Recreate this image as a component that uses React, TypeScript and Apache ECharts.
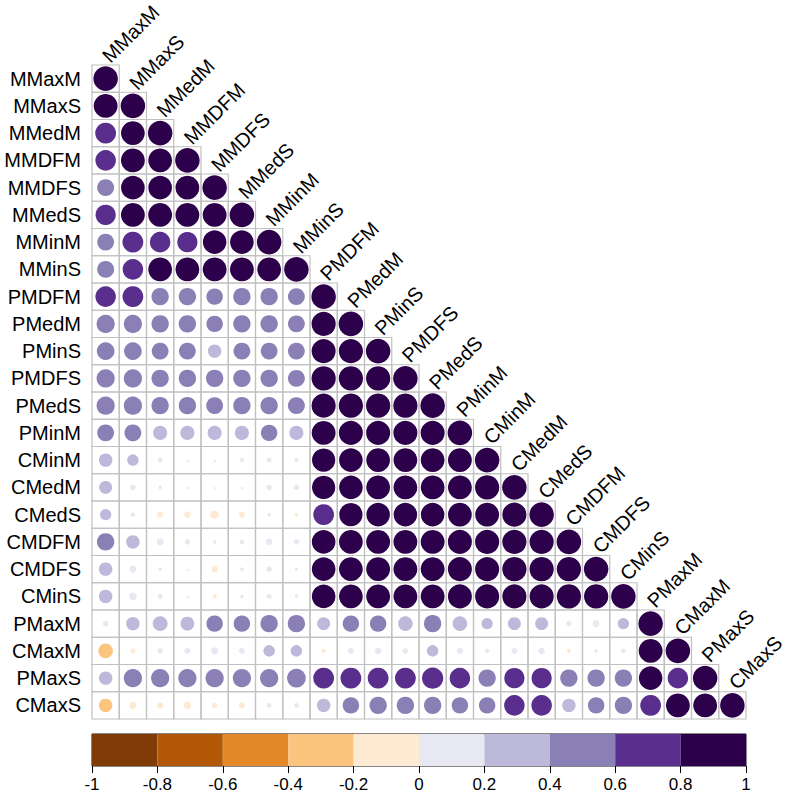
import React, { useEffect, useRef } from "react";
import * as echarts from "echarts";

const labels = [
  "MMaxM", "MMaxS", "MMedM", "MMDFM", "MMDFS", "MMedS", "MMinM", "MMinS",
  "PMDFM", "PMedM", "PMinS", "PMDFS", "PMedS", "PMinM", "CMinM", "CMedM",
  "CMedS", "CMDFM", "CMDFS", "CMinS", "PMaxM", "CMaxM", "PMaxS", "CMaxS",
];

// lower-triangle correlation rows (row i holds columns 0..i)
const rowMMaxM = [1];
const rowMMaxS = [0.95, 1];
const rowMMedM = [0.72, 0.94, 1];
const rowMMDFM = [0.7, 0.95, 0.94, 1];
const rowMMDFS = [0.48, 0.93, 0.93, 0.94, 1];
const rowMMedS = [0.68, 0.95, 0.95, 0.95, 0.95, 1];
const rowMMinM = [0.47, 0.72, 0.7, 0.68, 0.92, 0.93, 1];
const rowMMinS = [0.48, 0.7, 0.94, 0.94, 0.95, 0.95, 0.94, 1];
const rowPMDFM = [0.7, 0.72, 0.5, 0.5, 0.45, 0.5, 0.5, 0.47, 1];
const rowPMedM = [0.55, 0.55, 0.5, 0.5, 0.45, 0.5, 0.5, 0.47, 0.97, 1];
const rowPMinS = [0.52, 0.52, 0.47, 0.47, 0.3, 0.47, 0.47, 0.47, 0.96, 0.97, 1];
const rowPMDFS = [0.55, 0.55, 0.5, 0.5, 0.5, 0.5, 0.5, 0.48, 0.98, 0.98, 0.98, 1];
const rowPMedS = [0.55, 0.55, 0.5, 0.5, 0.47, 0.5, 0.5, 0.48, 0.97, 0.98, 0.98, 0.98, 1];
const rowPMinM = [0.47, 0.47, 0.33, 0.33, 0.33, 0.33, 0.45, 0.33, 0.95, 0.96, 0.96, 0.96, 0.96, 1];
const rowCMinM = [0.3, 0.22, 0.04, 0.01, 0.01, 0.03, 0.04, 0.03, 0.9, 0.93, 0.94, 0.94, 0.94, 0.95, 1];
const rowCMedM = [0.28, 0.05, 0.02, 0.01, -0.01, 0.01, 0.05, 0.05, 0.9, 0.93, 0.94, 0.94, 0.94, 0.95, 0.98, 1];
const rowCMedS = [0.21, 0.03, -0.06, -0.07, -0.12, -0.06, 0.02, -0.02, 0.72, 0.9, 0.92, 0.92, 0.92, 0.94, 0.95, 0.97, 1];
const rowCMDFM = [0.5, 0.3, 0.08, 0.05, 0.02, 0.04, 0.07, 0.05, 0.93, 0.94, 0.95, 0.95, 0.95, 0.96, 0.97, 0.97, 0.97, 1];
const rowCMDFS = [0.3, 0.08, 0.02, -0.01, -0.07, 0.02, 0.05, 0.02, 0.93, 0.94, 0.95, 0.95, 0.95, 0.96, 0.97, 0.98, 0.98, 0.98, 1];
const rowCMinS = [0.3, 0.1, 0.04, 0.01, -0.03, 0.02, 0.04, 0.02, 0.93, 0.94, 0.95, 0.95, 0.95, 0.96, 0.97, 0.97, 0.97, 0.98, 0.98, 1];
const rowPMaxM = [0.05, 0.3, 0.37, 0.32, 0.45, 0.45, 0.5, 0.5, 0.28, 0.45, 0.45, 0.35, 0.5, 0.35, 0.21, 0.28, 0.28, 0.05, 0.08, 0.21, 1];
const rowCMaxM = [-0.35, -0.04, 0.05, 0.06, 0.08, 0.06, 0.22, 0.22, -0.03, 0.06, 0.07, 0.05, 0.22, 0.06, 0.03, 0.06, 0.07, -0.03, 0.02, 0.04, 0.95, 1];
const rowPMaxS = [0.3, 0.55, 0.55, 0.55, 0.55, 0.55, 0.55, 0.58, 0.72, 0.72, 0.72, 0.72, 0.75, 0.7, 0.5, 0.68, 0.68, 0.5, 0.5, 0.5, 0.92, 0.7, 1];
const rowCMaxS = [-0.3, -0.08, -0.07, -0.1, -0.05, -0.06, 0.04, 0.04, 0.3, 0.45, 0.5, 0.5, 0.5, 0.45, 0.45, 0.7, 0.7, 0.3, 0.45, 0.5, 0.72, 0.95, 0.95, 1];

const corrRows = [
  rowMMaxM, rowMMaxS, rowMMedM, rowMMDFM, rowMMDFS, rowMMedS, rowMMinM, rowMMinS,
  rowPMDFM, rowPMedM, rowPMinS, rowPMDFS, rowPMedS, rowPMinM, rowCMinM, rowCMedM,
  rowCMedS, rowCMDFM, rowCMDFS, rowCMinS, rowPMaxM, rowCMaxM, rowPMaxS, rowCMaxS,
];

// colour bins from -1 to 1, step 0.2
const binColors = [
  "#7f3b08", "#b35806", "#e4892a", "#fdc47e", "#feead3",
  "#e8e8f2", "#bdb9da", "#8b80b5", "#5a2e8d", "#2d004b",
];
const binEdges = [-1, -0.8, -0.6, -0.4, -0.2, 0, 0.2, 0.4, 0.6, 0.8, 1];

const FONT = "'Liberation Sans', Arial, sans-serif";

function colorFor(r: number) {
  let k = Math.floor((r + 1) / 0.2 + 1e-9);
  if (k > 9) k = 9;
  if (k < 0) k = 0;
  return binColors[k];
}

export default function App() {
  const ref = useRef<HTMLDivElement>(null);
  useEffect(() => {
    if (!ref.current) return;
    const chart = echarts.init(ref.current, null, { renderer: "svg" });

    const cells: number[][] = [];
    corrRows.forEach((row, i) => row.forEach((v, j) => cells.push([j, i, v])));

    const bins = binColors.map((_, k) => [binEdges[k], binEdges[k + 1], k]);

    chart.setOption({
      animation: false,
      backgroundColor: "#ffffff",
      grid: [
        { left: 92, top: 65, width: 654, height: 654, show: false },
        { left: 92, top: 734, width: 654, height: 32, show: true, borderColor: "#111", borderWidth: 1, backgroundColor: "transparent" },
      ],
      xAxis: [
        { type: "category", gridIndex: 0, data: labels, show: false },
        {
          type: "value", gridIndex: 1, min: -1, max: 1, interval: 0.2,
          axisLine: { show: false },
          axisTick: { show: true, length: 7, inside: false, lineStyle: { color: "#000", width: 1 } },
          axisLabel: { fontSize: 17, color: "#000", fontFamily: FONT, margin: 10 },
          splitLine: { show: false },
        },
      ],
      yAxis: [
        {
          type: "category", gridIndex: 0, data: labels, inverse: true,
          axisLine: { show: false }, axisTick: { show: false },
          axisLabel: { fontSize: 20, color: "#000", fontFamily: FONT, margin: 11 },
        },
        { type: "value", gridIndex: 1, min: 0, max: 1, show: false },
      ],
      series: [
        {
          type: "custom",
          xAxisIndex: 0,
          yAxisIndex: 0,
          data: cells,
          renderItem: (params: any, api: any) => {
            const j = api.value(0);
            const i = api.value(1);
            const r = api.value(2);
            const c = api.coord([j, i]);
            const sz = api.size([1, 1]);
            const w = sz[0];
            const h = sz[1];
            const children: any[] = [
              {
                type: "rect",
                shape: { x: c[0] - w / 2, y: c[1] - h / 2, width: w, height: h },
                style: { fill: "none", stroke: "#c0c0c0", lineWidth: 1.2 },
              },
              {
                type: "circle",
                shape: { cx: c[0], cy: c[1], r: 0.45 * w * Math.sqrt(Math.abs(r)) },
                style: { fill: colorFor(r) },
              },
            ];
            if (i === j) {
              children.push({
                type: "text",
                x: c[0],
                y: c[1] - h / 2 - 6,
                rotation: Math.PI / 4,
                style: {
                  text: labels[j],
                  fontSize: 20,
                  fontFamily: FONT,
                  fill: "#000",
                  align: "left",
                  verticalAlign: "middle",
                },
              });
            }
            return { type: "group", children };
          },
        },
        {
          type: "custom",
          xAxisIndex: 1,
          yAxisIndex: 1,
          data: bins,
          renderItem: (params: any, api: any) => {
            const p0 = api.coord([api.value(0), 1]);
            const p1 = api.coord([api.value(1), 0]);
            return {
              type: "rect",
              shape: { x: p0[0], y: p0[1], width: p1[0] - p0[0], height: p1[1] - p0[1] },
              style: { fill: binColors[api.value(2)] },
            };
          },
        },
      ],
    });
    return () => chart.dispose();
  }, []);
  return <div ref={ref} style={{ position: "fixed", left: 0, top: 0, width: 788, height: 801 }} />;
}
